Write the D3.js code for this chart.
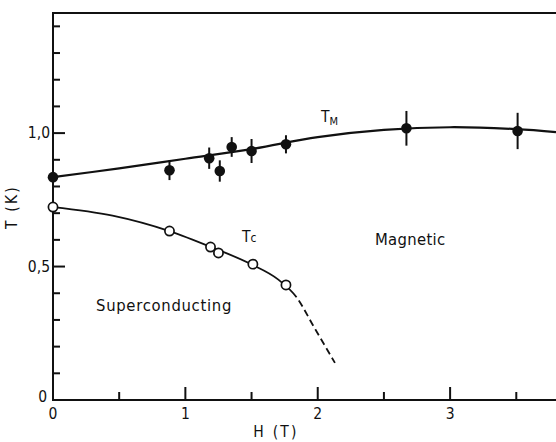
<!DOCTYPE html>
<html>
<head>
<meta charset="utf-8">
<script src="https://cdn.jsdelivr.net/npm/d3@7"></script>
<style>
  html, body { margin: 0; padding: 0; background: #fff; }
  svg { display: block; }
  text { font-family: "DejaVu Sans Condensed", "Liberation Sans Narrow", "DejaVu Sans", sans-serif; fill: #111; }
</style>
</head>
<body>
<svg id="chart" width="556" height="442"></svg>
<script>
// Magnetic ordering temperature T_M (filled circles, with error bars)
const tmField = [0, 0.88, 1.18, 1.26, 1.35, 1.50, 1.76, 2.67, 3.51];
const tmTemp  = [0.835, 0.861, 0.906, 0.858, 0.948, 0.933, 0.958, 1.018, 1.008];
const tmErr   = [0, 0.037, 0.04, 0.04, 0.037, 0.045, 0.034, 0.065, 0.068];

// Smooth guide line through T_M
const tmLineField = [0, 0.5, 1.0, 1.5, 2.0, 2.5, 3.0, 3.5, 3.8];
const tmLineTemp  = [0.835, 0.868, 0.904, 0.94, 0.985, 1.012, 1.022, 1.015, 1.004];

// Superconducting transition T_c (open circles)
const tcField = [0, 0.88, 1.19, 1.25, 1.51, 1.76];
const tcTemp  = [0.723, 0.633, 0.573, 0.551, 0.509, 0.431];

// T_c phase boundary; measured up to tcSolidEnd, extrapolated (dashed) beyond
const tcLineField = [0, 0.45, 0.88, 1.2, 1.5, 1.7, 1.84, 1.97, 2.13];
const tcLineTemp  = [0.723, 0.691, 0.633, 0.572, 0.508, 0.452, 0.385, 0.275, 0.139];
const tcSolidEnd = 1.84;

// Axis ticks
const xMajor = [1, 2, 3];
const xMinor = [0.5, 1.5, 2.5, 3.5];
const xLabels = ["0", "1", "2", "3"];
const yMajor = [0.5, 1.0];
const yMinor = [0.1, 0.2, 0.3, 0.4, 0.6, 0.7, 0.8, 0.9, 1.1, 1.2, 1.3, 1.4];
const yLabels = ["0", "0,5", "1,0"];

const svg = d3.select("#chart");
const x = d3.scaleLinear().domain([0, 3.8]).range([53, 556]);
const y = d3.scaleLinear().domain([0, 1.45]).range([400, 13]);

const ink = "#111";

// Frame: left axis, bottom axis, top border
svg.append("line").attr("x1", x(0)).attr("x2", x(0)).attr("y1", y(0) + 1).attr("y2", y(1.45))
  .attr("stroke", ink).attr("stroke-width", 2);
svg.append("line").attr("x1", x(0) - 1).attr("x2", 556).attr("y1", y(0)).attr("y2", y(0))
  .attr("stroke", ink).attr("stroke-width", 2);
svg.append("line").attr("x1", x(0) - 1).attr("x2", 556).attr("y1", y(1.45)).attr("y2", y(1.45))
  .attr("stroke", ink).attr("stroke-width", 2);

// Inward ticks
svg.selectAll(".ymaj").data(yMajor).join("line")
  .attr("x1", x(0)).attr("x2", x(0) + 12).attr("y1", d => y(d)).attr("y2", d => y(d))
  .attr("stroke", ink).attr("stroke-width", 2);
svg.selectAll(".ymin").data(yMinor).join("line")
  .attr("x1", x(0)).attr("x2", x(0) + 7).attr("y1", d => y(d)).attr("y2", d => y(d))
  .attr("stroke", ink).attr("stroke-width", 2);
svg.selectAll(".xmaj").data(xMajor).join("line")
  .attr("x1", d => x(d)).attr("x2", d => x(d)).attr("y1", y(0)).attr("y2", y(0) - 13)
  .attr("stroke", ink).attr("stroke-width", 2);
svg.selectAll(".xmin").data(xMinor).join("line")
  .attr("x1", d => x(d)).attr("x2", d => x(d)).attr("y1", y(0)).attr("y2", y(0) - 8)
  .attr("stroke", ink).attr("stroke-width", 2);

// Tick labels
svg.selectAll(".ylab").data([0, 0.5, 1.0]).join("text")
  .attr("x", (d, i) => i === 0 ? x(0) - 6 : x(0) - 3).attr("y", (d, i) => i === 0 ? y(d) + 2 : y(d) + 5)
  .attr("text-anchor", "end").attr("font-size", 15.5)
  .text((d, i) => yLabels[i]);
svg.selectAll(".xlab").data([0, 1, 2, 3]).join("text")
  .attr("x", d => x(d)).attr("y", y(0) + 19)
  .attr("text-anchor", "middle").attr("font-size", 15.5)
  .text((d, i) => xLabels[i]);

// Axis titles
svg.append("text").attr("x", 276).attr("y", 437).attr("text-anchor", "middle")
  .attr("font-size", 15.5).attr("letter-spacing", 2.2).text("H (T)");
svg.append("text").attr("transform", "translate(17,207) rotate(-90)")
  .attr("text-anchor", "middle").attr("font-size", 15.5).attr("letter-spacing", 2.2).text("T (K)");

const smooth = d3.line().x(d => x(d[0])).y(d => y(d[1])).curve(d3.curveCatmullRom.alpha(0.5));
const monotone = d3.line().x(d => x(d[0])).y(d => y(d[1])).curve(d3.curveMonotoneX);

// T_M curve
svg.append("path").datum(d3.zip(tmLineField, tmLineTemp))
  .attr("d", smooth).attr("fill", "none").attr("stroke", ink).attr("stroke-width", 2.2);

// T_c curve: one smooth path, solid up to tcSolidEnd then dashed
const tcPath = svg.append("path").datum(d3.zip(tcLineField, tcLineTemp))
  .attr("d", monotone).attr("fill", "none").attr("stroke", ink).attr("stroke-width", 1.8);
{
  const node = tcPath.node();
  const total = node.getTotalLength();
  // find the path length where the curve reaches H = tcSolidEnd
  let lo = 0, hi = total;
  for (let k = 0; k < 40; k++) {
    const mid = (lo + hi) / 2;
    if (node.getPointAtLength(mid).x < x(tcSolidEnd)) lo = mid; else hi = mid;
  }
  const dashes = [lo];
  for (let l = lo; l < total + 20; l += 11) dashes.push(4, 7);
  tcPath.attr("stroke-dasharray", dashes.join(","));
}

// T_M error bars and points
const tm = d3.zip(tmField, tmTemp, tmErr);
svg.selectAll(".err").data(tm.filter(d => d[2] > 0)).join("line")
  .attr("x1", d => x(d[0])).attr("x2", d => x(d[0]))
  .attr("y1", d => y(d[1] - d[2])).attr("y2", d => y(d[1] + d[2]))
  .attr("stroke", ink).attr("stroke-width", 2);
svg.selectAll(".tm").data(tm).join("circle")
  .attr("cx", d => x(d[0])).attr("cy", d => y(d[1])).attr("r", 5.3)
  .attr("fill", ink);

// T_c points
svg.selectAll(".tc").data(d3.zip(tcField, tcTemp)).join("circle")
  .attr("cx", d => x(d[0])).attr("cy", d => y(d[1])).attr("r", 4.6)
  .attr("fill", "#fff").attr("stroke", ink).attr("stroke-width", 1.7);

// Region and curve labels
const tmLab = svg.append("text").attr("x", 321).attr("y", 122).attr("font-size", 15.5);
tmLab.append("tspan").text("T");
tmLab.append("tspan").attr("font-size", 11).attr("dy", 3).text("M");
const tcLab = svg.append("text").attr("x", 242).attr("y", 242).attr("font-size", 15.5);
tcLab.append("tspan").text("T");
tcLab.append("tspan").attr("font-size", 12).text("c");
svg.append("text").attr("x", 375).attr("y", 245).attr("font-size", 16.5).attr("letter-spacing", 0.3).text("Magnetic");
svg.append("text").attr("x", 96).attr("y", 311).attr("font-size", 16.5).attr("letter-spacing", 0.7).text("Superconducting");
</script>
</body>
</html>
